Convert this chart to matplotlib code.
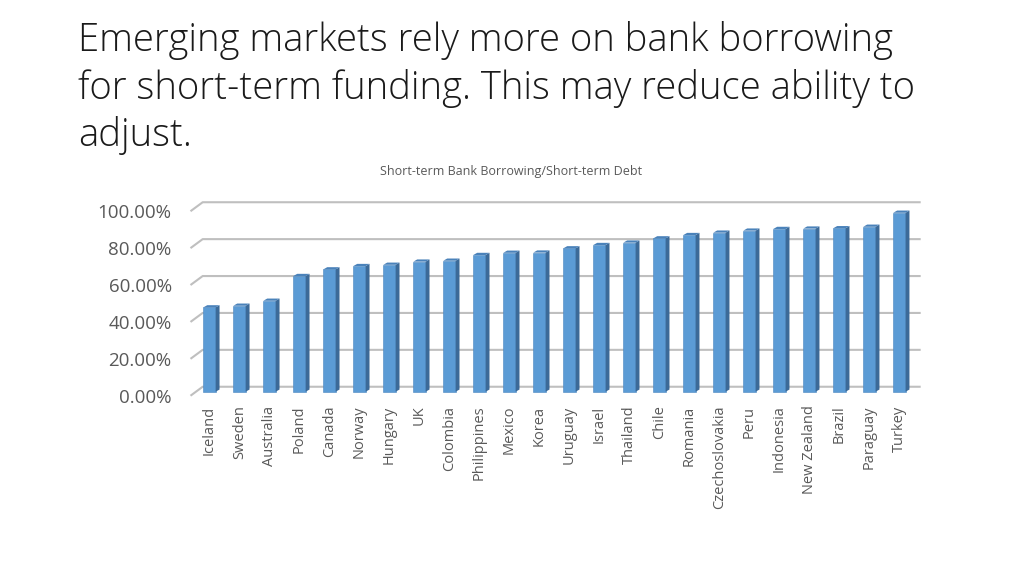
import matplotlib.pyplot as plt
from matplotlib.patches import Polygon

# datos
paises = ["Iceland", "Sweden", "Australia", "Poland", "Canada", "Norway", "Hungary", "UK",
          "Colombia", "Philippines", "Mexico", "Korea", "Uruguay", "Israel", "Thailand", "Chile",
          "Romania", "Czechoslovakia", "Peru", "Indonesia", "New Zealand", "Brazil", "Paraguay", "Turkey"]
valores = [45.7, 46.6, 49.3, 62.7, 66.3, 68.1, 68.8, 70.5, 71.0, 74.1, 75.3, 75.4,
           77.7, 79.5, 80.8, 83.1, 84.9, 86.2, 87.3, 88.2, 88.4, 88.6, 89.4, 97.0]
rejilla = [0, 20, 40, 60, 80, 100]
etiquetas_y = ["0.00%", "20.00%", "40.00%", "60.00%", "80.00%", "100.00%"]

# estilo
azul = "#5b9bd5"
azul_lado = "#3c6a98"
azul_arriba = "#4a82ba"
gris_texto = "#595959"
gris_rejilla = "#bfbfbf"
fuente = "Open Sans"

ancho = 0.41      # ancho frente de barra
prof_x = 0.13     # profundidad en x
prof_y = 1.2      # profundidad en y
pared_y = 2.7     # pared de fondo sobre la base frontal
borde_y = -2.17   # borde frontal del piso
pared_x0 = -0.227
borde_x0 = -0.633
pared_x1 = 23.71

fig = plt.figure(figsize=(10.24, 5.76), dpi=100)

# titulo
fig.text(78 / 1024, 1 - 21 / 576,
         "Emerging markets rely more on bank borrowing\nfor short-term funding. This may reduce ability to\nadjust.",
         fontsize=27.5, family=fuente, fontweight="light", color="#1a1a1a",
         ha="left", va="top", linespacing=1.285)
fig.text(511 / 1024, 1 - 171 / 576, "Short-term Bank Borrowing/Short-term Debt",
         fontsize=9, family=fuente, color=gris_texto, ha="center", va="center")

ax = fig.add_axes([180 / 1024, 1 - 402.8 / 576, 750 / 1024, 208.5 / 576])
ax.set_xlim(-0.983, 24.02)
ax.set_ylim(-6, 107)

# rejilla con pared en perspectiva
for g in rejilla:
    ax.plot([borde_x0, pared_x0, pared_x1], [g + borde_y, g + pared_y, g + pared_y],
            color=gris_rejilla, lw=1.5, zorder=1, solid_capstyle="butt")

# barras
for i, v in enumerate(valores):
    ax.bar(i, v, width=ancho, color=azul, edgecolor="#4a86c0", linewidth=0.4, zorder=3)
    x0 = i - ancho / 2
    x1 = i + ancho / 2
    lado = Polygon([(x1, 0), (x1 + prof_x, prof_y), (x1 + prof_x, v + prof_y), (x1, v)],
                   closed=True, facecolor=azul_lado, edgecolor="none", zorder=3)
    arriba = Polygon([(x0, v), (x0 + prof_x, v + prof_y), (x1 + prof_x, v + prof_y), (x1, v)],
                     closed=True, facecolor=azul_arriba, edgecolor="none", zorder=3)
    ax.add_patch(lado)
    ax.add_patch(arriba)

ax.set_xticks(range(len(paises)))
ax.set_xticklabels(paises, rotation=90, fontsize=10.5, family=fuente, color=gris_texto)
ax.set_yticks([g + borde_y for g in rejilla])
ax.set_yticklabels(etiquetas_y, fontsize=13.5, family=fuente, color=gris_texto)
ax.tick_params(axis="both", length=0)
ax.tick_params(axis="x", pad=2)
ax.tick_params(axis="y", pad=6)
for s in ax.spines.values():
    s.set_visible(False)

plt.savefig("out.png", dpi=100)
